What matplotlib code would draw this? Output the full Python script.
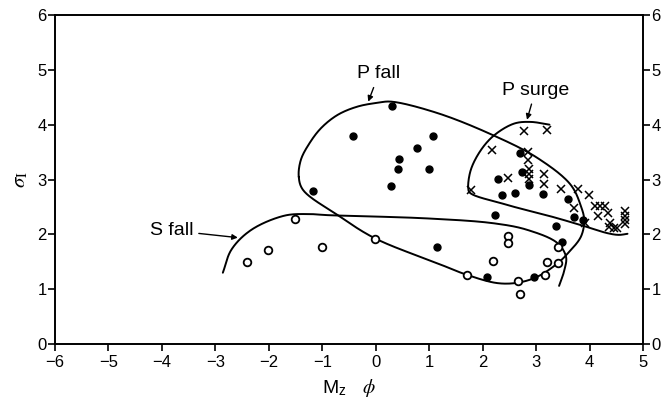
import numpy as np
import matplotlib
matplotlib.use("Agg")
import matplotlib.pyplot as plt

plt.rcParams['font.family'] = ['Liberation Sans', 'DejaVu Sans']
plt.rcParams['mathtext.fontset'] = 'stix'

# ---- data ----
p_fall_x = [-1.18, -0.42, 0.30, 0.28, 0.41, 0.44, 0.78, 0.99, 1.07, 1.14, 2.23, 2.28,
            2.36, 2.61, 2.70, 2.73, 2.87, 3.12, 3.38, 3.48, 3.60, 3.71, 3.87, 2.09, 2.97]
p_fall_y = [2.79, 3.80, 4.34, 2.88, 3.19, 3.37, 3.57, 3.20, 3.80, 1.76, 2.35, 3.01,
            2.72, 2.75, 3.48, 3.13, 2.90, 2.73, 2.16, 1.86, 2.64, 2.31, 2.26, 1.23, 1.23]

s_fall_x = [-2.41, -2.02, -1.51, -1.01, -0.01, 1.71, 2.20, 2.47, 2.47, 2.67, 2.69,
            3.16, 3.20, 3.41, 3.41]
s_fall_y = [1.50, 1.71, 2.28, 1.76, 1.92, 1.26, 1.51, 1.97, 1.85, 1.15, 0.92,
            1.26, 1.50, 1.48, 1.76]

p_surge_x = [2.78, 3.20, 2.17, 2.85, 2.84, 2.87, 2.87, 2.87, 2.48, 3.15, 3.15, 1.78,
             3.47, 3.78, 3.99, 3.70, 4.11, 4.20, 4.28, 4.15, 4.34, 4.38, 4.37, 4.45,
             4.51, 4.67, 4.67, 4.67, 4.67, 3.91]
p_surge_y = [3.89, 3.90, 3.53, 3.51, 3.35, 3.19, 3.10, 3.01, 3.02, 3.10, 2.92, 2.81,
             2.82, 2.82, 2.72, 2.48, 2.51, 2.51, 2.51, 2.34, 2.39, 2.21, 2.14, 2.12,
             2.12, 2.43, 2.34, 2.26, 2.18, 2.20]

# envelope outlines (traced)
p_fall_env_x = [-1.44, -1.36, -0.71, -0.02, 1.16, 1.71, 2.28, 2.67, 3.03, 3.40, 3.59,
                3.84, 3.90, 3.84, 3.65, 3.03, 2.19, 1.16, 0.29, 0.04, -0.34, -0.71,
                -1.02, -1.24, -1.40]
p_fall_env_y = [3.05, 2.81, 2.35, 1.93, 1.47, 1.26, 1.11, 1.12, 1.23, 1.47, 1.65,
                1.96, 2.26, 2.51, 2.90, 3.39, 3.81, 4.21, 4.42, 4.40, 4.33, 4.18,
                3.94, 3.66, 3.36]

s_fall_env_x = [-2.86, -2.70, -2.33, -1.71, -1.27, -0.90, 0.97, 2.22, 2.84, 3.40, 3.56, 3.53, 3.43]
s_fall_env_y = [1.30, 1.72, 2.08, 2.34, 2.37, 2.35, 2.29, 2.20, 2.08, 1.84, 1.59, 1.35, 1.06]

p_surge_env_x = [3.25, 2.90, 2.59, 2.22, 1.97, 1.78, 1.73, 1.76, 2.41, 3.34, 3.90, 4.34, 4.55, 4.71]
p_surge_env_y = [4.00, 4.05, 4.02, 3.81, 3.54, 3.18, 2.85, 2.76, 2.55, 2.31, 2.15, 2.02, 1.99, 2.01]

x_ticks = [-6, -5, -4, -3, -2, -1, 0, 1, 2, 3, 4, 5]
y_ticks = [0, 1, 2, 3, 4, 5, 6]


def catmull(xs, ys, closed=False, n=24, alpha=0.5):
    """Centripetal Catmull-Rom through the traced outline points (for drawing only)."""
    P = np.column_stack([xs, ys]).astype(float)
    if closed:
        P = np.vstack([P[-1], P, P[0], P[1]])
    else:
        P = np.vstack([2 * P[0] - P[1], P, 2 * P[-1] - P[-2]])
    out = []
    for i in range(1, len(P) - 2):
        p0, p1, p2, p3 = P[i - 1], P[i], P[i + 1], P[i + 2]
        t0 = 0.0
        t1 = t0 + max(np.linalg.norm(p1 - p0), 1e-6) ** alpha
        t2 = t1 + max(np.linalg.norm(p2 - p1), 1e-6) ** alpha
        t3 = t2 + max(np.linalg.norm(p3 - p2), 1e-6) ** alpha
        t = np.linspace(t1, t2, n, endpoint=False)[:, None]
        a1 = (t1 - t) / (t1 - t0) * p0 + (t - t0) / (t1 - t0) * p1
        a2 = (t2 - t) / (t2 - t1) * p1 + (t - t1) / (t2 - t1) * p2
        a3 = (t3 - t) / (t3 - t2) * p2 + (t - t2) / (t3 - t2) * p3
        b1 = (t2 - t) / (t2 - t0) * a1 + (t - t0) / (t2 - t0) * a2
        b2 = (t3 - t) / (t3 - t1) * a2 + (t - t1) / (t3 - t1) * a3
        c = (t2 - t) / (t2 - t1) * b1 + (t - t1) / (t2 - t1) * b2
        out.append(c)
    out.append(P[-2][None, :])
    out = np.vstack(out)
    return out[:, 0], out[:, 1]


fig = plt.figure(figsize=(6.61, 4.03), dpi=100)
ax = fig.add_axes([55 / 661, 59 / 403, 588 / 661, 329 / 403])

lw = 1.4
for xs, ys, closed in [(p_fall_env_x, p_fall_env_y, True),
                       (s_fall_env_x, s_fall_env_y, False),
                       (p_surge_env_x, p_surge_env_y, False)]:
    cx, cy = catmull(xs, ys, closed)
    ax.plot(cx, cy, color='black', lw=lw, solid_capstyle='round')

ax.plot(p_fall_x, p_fall_y, 'o', ms=5, color='black', mec='black', ls='none')
ax.plot(s_fall_x, s_fall_y, 'o', ms=5.5, mfc='white', mec='black', mew=1.3, ls='none')
ax.plot(p_surge_x, p_surge_y, 'x', ms=6, color='black', mew=1.1, ls='none')

arrow = dict(arrowstyle='-|>', color='black', lw=1.0, mutation_scale=8, shrinkA=2, shrinkB=0)
ax.annotate('P fall', xy=(-0.14, 4.42), xytext=(0.06, 4.93), ha='center', va='center',
            fontsize=14, arrowprops=arrow)
ax.annotate('P surge', xy=(2.83, 4.09), xytext=(2.99, 4.63), ha='center', va='center',
            fontsize=14, arrowprops=arrow)
ax.annotate('S fall', xy=(-2.58, 1.94), xytext=(-3.82, 2.07), ha='center', va='center',
            fontsize=14, arrowprops=arrow)

ax.set_xlim(-6, 5)
ax.set_ylim(0, 6)
ax.set_xticks(x_ticks)
ax.set_xticklabels([('\u2212' + str(-v)) if v < 0 else str(v) for v in x_ticks])
ax.set_yticks(y_ticks)
ax.tick_params(axis='both', direction='out', length=5, width=1.2, labelsize=12)
ax.tick_params(axis='x', pad=3)
ax.tick_params(axis='y', which='both', right=True, labelright=True, pad=1)
for s in ax.spines.values():
    s.set_linewidth(1.4)

ax.set_xlabel('M$_{\\mathregular{z}}$   $\\phi$', fontsize=14, labelpad=5)
ax.set_ylabel('$\\sigma_{\\mathrm{I}}$', fontsize=15, labelpad=5)

fig.savefig('out.png', dpi=100)
